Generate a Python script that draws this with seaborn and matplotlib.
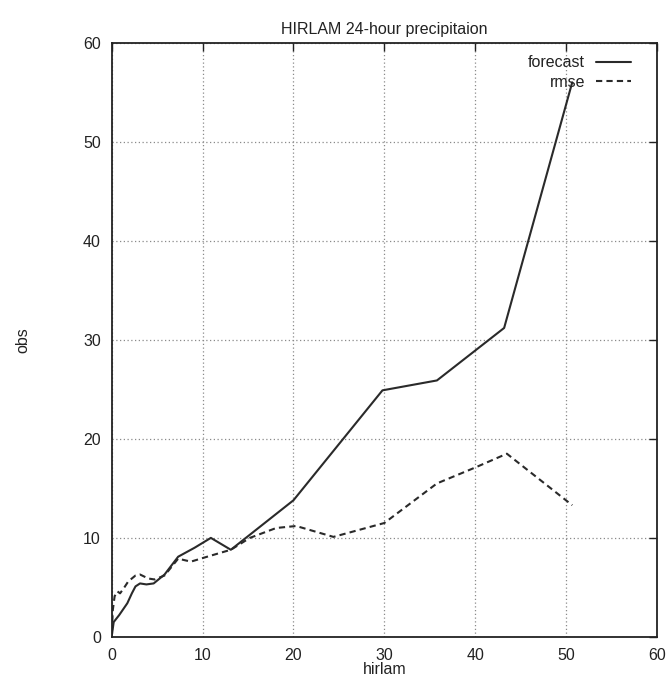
import matplotlib
matplotlib.use("Agg")
import matplotlib.pyplot as plt
import seaborn as sns
import pandas as pd

# Data
forecast_x = [0, 0.2, 0.8, 1.7, 2.2, 2.6, 3.1, 3.8, 4.6, 5.8, 7.3, 9.1, 10.9, 13.1, 20.0, 29.8, 35.8, 43.2, 50.7]
forecast_y = [0.2, 1.5, 2.2, 3.4, 4.4, 5.1, 5.4, 5.3, 5.4, 6.3, 8.1, 9.0, 10.0, 8.8, 13.8, 24.9, 25.9, 31.2, 56.0]

rmse_x = [0, 0.1, 0.3, 0.6, 0.9, 1.3, 1.8, 2.6, 3.1, 4.0, 4.7, 5.8, 7.3, 8.7, 10.5, 13.1, 15.2, 18.1, 20.3, 24.4, 30.0, 35.8, 40.0, 43.5, 50.7]
rmse_y = [0.5, 2.7, 4.1, 4.6, 4.4, 4.9, 5.6, 6.2, 6.3, 5.9, 5.8, 6.2, 7.9, 7.6, 8.1, 8.8, 10.0, 11.0, 11.2, 10.1, 11.5, 15.5, 17.1, 18.5, 13.3]

ticks = [0, 10, 20, 30, 40, 50, 60]
title = "HIRLAM 24-hour precipitaion"
xlabel = "hirlam"
ylabel = "obs"

sns.set_theme(style="white")
plt.rcParams['font.family'] = ['Liberation Sans', 'DejaVu Sans']

fig = plt.figure(figsize=(6.66, 6.79), dpi=100)
ax = fig.add_axes([0.168, 0.062, 0.818, 0.875])

df_f = pd.DataFrame({"x": forecast_x, "y": forecast_y})
df_r = pd.DataFrame({"x": rmse_x, "y": rmse_y})

sns.lineplot(data=df_f, x="x", y="y", ax=ax, color="#2a2a2a", lw=1.5,
             label="forecast", sort=False, estimator=None)
sns.lineplot(data=df_r, x="x", y="y", ax=ax, color="#2a2a2a", lw=1.5,
             linestyle=(0, (3, 2)), label="rmse", sort=False, estimator=None)

ax.set_xlim(0, 60)
ax.set_ylim(0, 60)
ax.set_xticks(ticks)
ax.set_yticks(ticks)
ax.set_xticklabels([str(t) for t in ticks])
ax.set_yticklabels([str(t) for t in ticks])
ax.tick_params(direction="in", length=6, width=1, top=True, right=True,
               labelsize=11.5, colors="#222222", pad=8)
ax.grid(True, color="#8a8a8a", linestyle=(0, (1, 2)), linewidth=0.9)
for s in ax.spines.values():
    s.set_color("#222222")
    s.set_linewidth(1.3)

ax.set_title(title, fontsize=11.5, pad=6, color="#222222")
ax.set_xlabel(xlabel, fontsize=11.5, labelpad=-1, color="#222222")
ax.set_ylabel(ylabel, fontsize=11.5, color="#222222")
ax.yaxis.set_label_coords(-0.15, 0.5)

leg = ax.legend(loc="upper right", bbox_to_anchor=(0.965, 0.99), frameon=False,
                markerfirst=False, fontsize=11.5, handlelength=2.2,
                handletextpad=0.7, labelspacing=0.3, borderaxespad=0.0)
for t in leg.get_texts():
    t.set_color("#222222")

fig.savefig("out.png", dpi=100, facecolor="white")
